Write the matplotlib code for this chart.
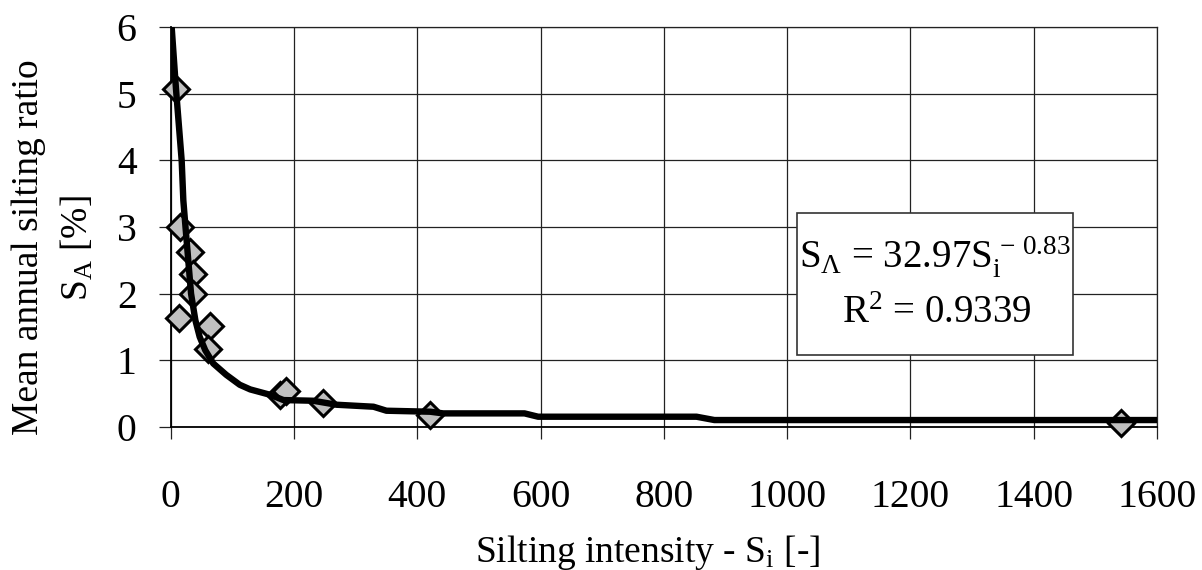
import matplotlib
matplotlib.use('Agg')
import matplotlib.pyplot as plt
from matplotlib.patches import Rectangle

# ---- data ----
obs_x = [9, 15, 31, 36, 36, 14, 63, 61, 177, 187, 247, 421, 1542]
obs_y = [5.08, 3.0, 2.63, 2.29, 2.0, 1.63, 1.51, 1.17, 0.47, 0.53, 0.35, 0.17, 0.05]

fit_x = [1.6, 8.6, 17.8, 20.5, 24, 33, 40, 47, 56, 69, 90, 112, 129, 161, 183,
         231, 269, 329, 350, 421, 442, 574, 596, 853, 882, 1600]
fit_y = [6.0, 5.07, 4.0, 3.4, 3.0, 2.0, 1.6, 1.35, 1.15, 0.95, 0.78, 0.63, 0.56,
         0.48, 0.40, 0.39, 0.33, 0.30, 0.24, 0.225, 0.20, 0.20, 0.15, 0.15, 0.10, 0.10]

x_ticks = [0, 200, 400, 600, 800, 1000, 1200, 1400, 1600]
y_ticks = [0, 1, 2, 3, 4, 5, 6]

xlabel = 'Silting intensity - $\\mathregular{S_i}$ [-]'
ylabel_1 = 'Mean annual silting ratio'
ylabel_2 = '$\\mathregular{S_A}$ [%]'
eq_line = '$\\mathregular{S_{\u039b}}$ = 32.97$\\mathregular{S_i^{\\,-\\,0.83}}$'
r2_line = '$\\mathregular{R^2}$ = 0.9339'

plt.rcParams['font.family'] = ['Liberation Serif', 'DejaVu Serif']
plt.rcParams['mathtext.fontset'] = 'custom'
plt.rcParams['mathtext.rm'] = 'Liberation Serif'
plt.rcParams['mathtext.it'] = 'Liberation Serif:italic'

W, H = 1202, 570
FS = 27
fig = plt.figure(figsize=(W / 100, H / 100), dpi=100)
ax = fig.add_axes([170.7 / W, 1 - 426.7 / H, (1157 - 170.7) / W, (426.7 - 27.3) / H])

ax.plot(obs_x, obs_y, ls='none', marker='D', ms=13.5, mfc='#c0c0c0', mec='black',
        mew=2.2, zorder=3, clip_on=False)
ax.plot(fit_x, fit_y, color='black', lw=4.6, zorder=4, solid_joinstyle='round')

ax.set_xlim(0, 1600)
ax.set_ylim(0, 6)
ax.set_xticks(x_ticks)
ax.set_yticks(y_ticks)
ax.grid(True, color='#222222', lw=0.9)
ax.set_axisbelow(True)
for s in ax.spines.values():
    s.set_color('#222222')
    s.set_linewidth(0.9)
ax.spines['left'].set_linewidth(1.3)
ax.spines['bottom'].set_linewidth(1.3)
ax.spines['left'].set_color('black')
ax.spines['bottom'].set_color('black')
ax.tick_params(axis='both', length=8.6, width=0.9, color='#222222', labelsize=28.5)
ax.tick_params(axis='x', pad=29)
ax.tick_params(axis='y', pad=16)

fig.text(648 / W, 1 - 562 / H, xlabel, ha='center', va='baseline', fontsize=FS)
fig.text(38 / W, 1 - 247 / H, ylabel_1, rotation=90, rotation_mode='anchor',
         ha='center', va='baseline', fontsize=FS)
fig.text(88 / W, 1 - 248 / H, ylabel_2, rotation=90, rotation_mode='anchor',
         ha='center', va='baseline', fontsize=FS)

fig.add_artist(Rectangle((797 / W, 1 - 355 / H), (1073 - 797) / W, (355 - 212.7) / H,
                         transform=fig.transFigure, facecolor='white',
                         edgecolor='#333333', lw=1.2, zorder=5))
fig.text(935 / W, 1 - 268 / H, eq_line, ha='center', va='baseline', fontsize=28, zorder=6)
fig.text(937 / W, 1 - 323 / H, r2_line, ha='center', va='baseline', fontsize=28, zorder=6)

fig.savefig('out.png', dpi=100)
